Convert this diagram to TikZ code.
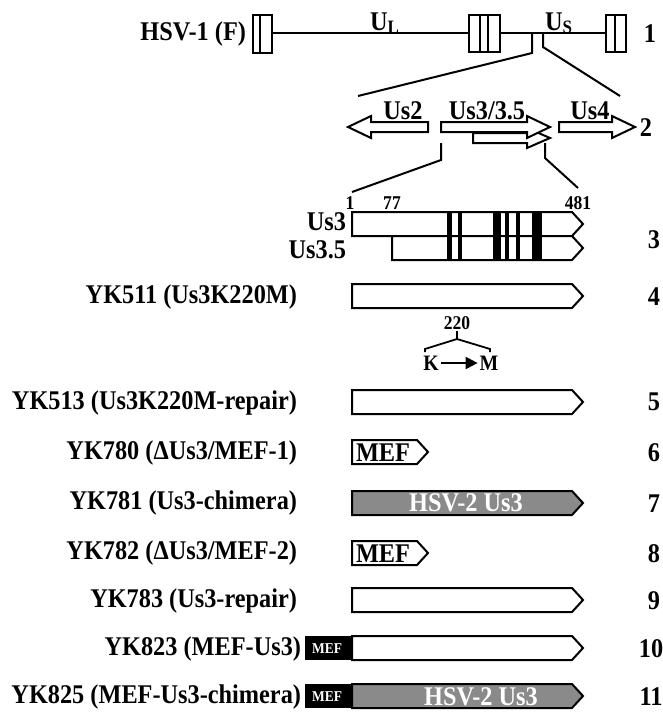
\documentclass[tikz,border=0pt]{standalone}
\usepackage{fontspec}
\setmainfont{Liberation Serif}[FakeStretch=0.9]
\usetikzlibrary{arrows.meta}
\definecolor{bargray}{RGB}{138,138,138}
\newcommand\genebar[4]{\draw[bar,fill=#4] (#1,#3-12) -- (#2,#3-12) -- (#2+11,#3) -- (#2,#3+12) -- (#1,#3+12) -- cycle;}
\newcommand\rarr[4]{\draw[bar,fill=white] (#1,#3-5) -- (#2-23,#3-5) -- (#2-23,#3-#4) -- (#2,#3) -- (#2-23,#3+#4) -- (#2-23,#3+5) -- (#1,#3+5) -- cycle;}
\begin{document}
\begin{tikzpicture}[x=1pt,y=-1pt,line width=2pt,
  bar/.style={line width=2pt,line join=miter},
  lbl/.style={font=\fontsize{27}{30}\selectfont\bfseries,inner sep=0pt},
  num/.style={font=\fontsize{27}{30}\selectfont\bfseries,inner sep=0pt},
  small/.style={font=\fontsize{19.5}{22}\selectfont\bfseries,inner sep=0pt},
  wtxt/.style={font=\fontsize{27}{30}\selectfont\bfseries,inner sep=0pt,text=white},
  wsmall/.style={font=\fontsize{15}{17}\selectfont\bfseries,inner sep=0pt,text=white}]
\useasboundingbox (0,0) rectangle (663,718);
% ---------- row 1 ----------
\node[lbl,anchor=east] (hsv) at (247,34) {HSV-1 (F)};
\draw (253,15) rectangle (272,53); \draw (260,15) -- (260,53);
\draw (272,33) -- (469,33);
\draw (469,15) rectangle (500,52); \draw (480,15) -- (480,52); \draw (488,15) -- (488,52);
\draw (500,33) -- (606,33);
\draw (606,15) rectangle (626,52); \draw (615,15) -- (615,52);
\node[lbl,anchor=base west] (ul) at (369,30) {U\textsubscript{L}};
\node[lbl,anchor=base west] (us) at (544,30) {U\textsubscript{S}};
\draw (532,33) -- (532,53) -- (358,96);
\draw (543,33) -- (543,47) -- (620,96);
\node[num] (n1) at (650,34) {1};
% ---------- row 2 ----------
\draw[bar,fill=white] (428,122) -- (371,122) -- (371,116) -- (348,127) -- (371,138) -- (371,132) -- (428,132) -- cycle;
\rarr{473}{550}{138}{10}
\rarr{441}{550}{127}{11}
\rarr{559}{635}{127}{11}
\node[lbl,anchor=base] (us2) at (403,119) {Us2};
\node[lbl,anchor=base] (us33) at (487,119) {Us3/3.5};
\node[lbl,anchor=base] (us4) at (590,119) {Us4};
\node[num] (n2) at (646,128) {2};
\draw (441,143) -- (441,160) -- (352,192);
\draw (545,143) -- (545,158) -- (578,188);
% ---------- row 3 ----------
\node[small] (p1) at (350,203) {1};
\node[small] (p77) at (392,203) {77};
\node[small] (p481) at (578,203) {481};
\genebar{352}{572}{224}{white}
\genebar{392}{572}{248}{white}
\foreach \a/\b in {447/452,458/462,493/501,505/509,516/520,532/542}
  \fill (\a,212) rectangle (\b,260);
\node[lbl,anchor=east] (lus3) at (347,222) {Us3};
\node[lbl,anchor=east] (lus35) at (347,250) {Us3.5};
\node[num] (n3) at (654,240) {3};
% ---------- row 4 ----------
\node[lbl,anchor=east] (l4) at (298,297) {YK511 (Us3K220M)};
\genebar{352}{572}{296}{white}
\node[num] (n4) at (654,297) {4};
\node[small] (p220) at (457,323) {220};
\draw[line width=1.8pt] (457,331) -- (457,339);
\draw[line width=1.8pt] (425,352) -- (425,349) -- (457,339) -- (490,349) -- (490,352);
\node[font=\fontsize{22}{24}\selectfont\bfseries,inner sep=1pt] (K) at (431,363) {K};
\node[font=\fontsize{22}{24}\selectfont\bfseries,inner sep=1pt] (M) at (489,363) {M};
\draw[line width=2pt,-{Triangle[length=12pt,width=12pt]}] (K) -- (M);
% ---------- row 5 ----------
\node[lbl,anchor=east] (l5) at (298,403) {YK513 (Us3K220M-repair)};
\genebar{352}{572}{402}{white}
\node[num] (n5) at (654,402) {5};
% ---------- row 6 ----------
\node[lbl,anchor=east] (l6) at (298,453) {YK780 (ΔUs3/MEF-1)};
\genebar{352}{417}{452}{white}
\node[lbl] (m6) at (383,453) {MEF};
\node[num] (n6) at (654,453) {6};
% ---------- row 7 ----------
\node[lbl,anchor=east] (l7) at (298,503) {YK781 (Us3-chimera)};
\genebar{352}{572}{503}{bargray}
\node[wtxt] (h7) at (466,503) {HSV-2 Us3};
\node[num] (n7) at (654,504) {7};
% ---------- row 8 ----------
\node[lbl,anchor=east] (l8) at (298,553) {YK782 (ΔUs3/MEF-2)};
\genebar{352}{417}{553}{white}
\node[lbl] (m8) at (383,554) {MEF};
\node[num] (n8) at (654,554) {8};
% ---------- row 9 ----------
\node[lbl,anchor=east] (l9) at (298,601) {YK783 (Us3-repair)};
\genebar{352}{572}{600}{white}
\node[num] (n9) at (654,601) {9};
% ---------- row 10 ----------
\node[lbl,anchor=east] (l10) at (302,649) {YK823 (MEF-Us3)};
\genebar{352}{572}{648}{white}
\fill (305,636) rectangle (352,660);
\node[wsmall] (m10) at (327,649) {MEF};
\node[num] (n10) at (651,649) {10};
% ---------- row 11 ----------
\node[lbl,anchor=east] (l11) at (302,697) {YK825 (MEF-Us3-chimera)};
\genebar{352}{572}{696}{bargray}
\fill (305,684) rectangle (352,708);
\node[wsmall] (m11) at (327,697) {MEF};
\node[wtxt] (h11) at (481,697) {HSV-2 Us3};
\node[num] (n11) at (651,697) {11};
\end{tikzpicture}
\end{document}
